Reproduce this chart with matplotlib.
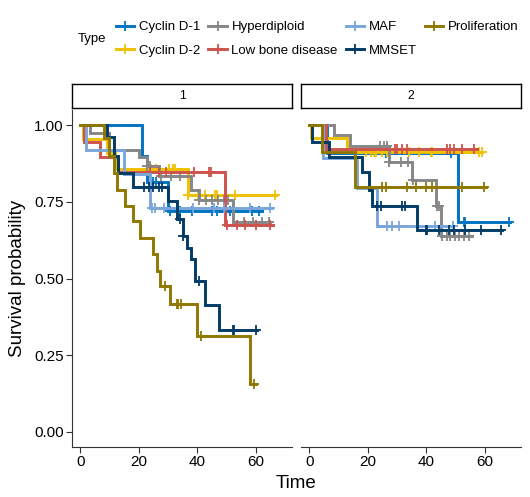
import matplotlib.pyplot as plt
import numpy as np

plt.rcParams['font.family'] = ['Liberation Sans', 'DejaVu Sans']

# 分组和颜色 (jco 调色板)
types = ["Cyclin D-1", "Cyclin D-2", "Hyperdiploid", "Low bone disease", "MAF", "MMSET", "Proliferation"]
colors = ["#0073C2", "#EFC000", "#868686", "#CD534C", "#7AA6DC", "#003C67", "#8F7700"]
panels = ["1", "2"]

# 面板 1：阶梯时间点、生存率、最后随访时间、删失时间
times_1 = {
    "Cyclin D-1": [0, 21, 23, 30],
    "Cyclin D-2": [0, 1, 9, 12, 37],
    "Hyperdiploid": [0, 3.4, 10, 20, 23, 27, 38, 40.5, 52.4],
    "Low bone disease": [0, 1.2, 6.8, 13, 49.6],
    "MAF": [0, 2, 15, 24],
    "MMSET": [0, 9, 11.5, 13, 18, 30, 33, 35, 36.5, 38, 39.3, 42.7, 47.3],
    "Proliferation": [0, 8, 9.8, 11.4, 12.5, 15.4, 18.2, 20.5, 25, 26.4, 27.4, 30.8, 39.9, 58],
}
surv_1 = {
    "Cyclin D-1": [1.0, 0.90, 0.816, 0.72],
    "Cyclin D-2": [1.0, 0.955, 0.91, 0.857, 0.774],
    "Hyperdiploid": [1.0, 0.975, 0.92, 0.897, 0.867, 0.833, 0.79, 0.755, 0.683],
    "Low bone disease": [1.0, 0.946, 0.897, 0.846, 0.676],
    "MAF": [1.0, 0.92, 0.84, 0.731],
    "MMSET": [1.0, 0.962, 0.90, 0.845, 0.80, 0.752, 0.693, 0.638, 0.60, 0.563, 0.493, 0.412, 0.331],
    "Proliferation": [1.0, 0.957, 0.90, 0.845, 0.79, 0.736, 0.687, 0.633, 0.58, 0.525, 0.477, 0.417, 0.313, 0.155],
}
end_1 = {"Cyclin D-1": 62, "Cyclin D-2": 67, "Hyperdiploid": 65, "Low bone disease": 66,
         "MAF": 65.5, "MMSET": 60.4, "Proliferation": 60}
cens_1 = {
    "Cyclin D-1": [25, 26, 30.8, 34.2, 38.2, 45, 46.7, 51.3, 58.7, 61],
    "Cyclin D-2": [24.3, 26, 30.5, 31.7, 32.3, 37, 40.4, 42.7, 46, 46.7, 53, 66.7],
    "Hyperdiploid": [23, 24, 27.5, 31, 34, 40.7, 43, 45, 47, 49, 50.5, 56, 59, 62, 64.5],
    "Low bone disease": [24, 27, 29.5, 39, 44, 44.7, 50.3, 53.6, 56.5, 60, 64.8],
    "MAF": [24.5, 25.6, 28.5, 33, 38.7, 45.6, 49, 58, 65],
    "MMSET": [21.7, 23.4, 25, 26.8, 27.9, 34, 35, 40.7, 52.2, 52.6, 60],
    "Proliferation": [29, 33.1, 33.6, 34.4, 41.3, 59.3],
}

# 面板 2
times_2 = {
    "Cyclin D-1": [0, 6.2, 50.8],
    "Cyclin D-2": [0, 0.5, 13],
    "Hyperdiploid": [0, 8.4, 14, 27.2, 35.2, 43.2, 44.9],
    "Low bone disease": [0, 5.6],
    "MAF": [0, 4.6, 16.4, 23.2],
    "MMSET": [0, 1, 6.7, 18.1, 20.4, 21.5, 36.9],
    "Proliferation": [0, 4.4, 15.8],
}
surv_2 = {
    "Cyclin D-1": [1.0, 0.91, 0.684],
    "Cyclin D-2": [1.0, 0.957, 0.913],
    "Hyperdiploid": [1.0, 0.968, 0.932, 0.881, 0.822, 0.736, 0.638],
    "Low bone disease": [1.0, 0.922],
    "MAF": [1.0, 0.892, 0.795, 0.671],
    "MMSET": [1.0, 0.946, 0.897, 0.849, 0.79, 0.738, 0.658],
    "Proliferation": [1.0, 0.913, 0.80],
}
end_2 = {"Cyclin D-1": 68.8, "Cyclin D-2": 59, "Hyperdiploid": 55.7, "Low bone disease": 57.4,
         "MAF": 49, "MMSET": 66, "Proliferation": 60.3}
cens_2 = {
    "Cyclin D-1": [26.3, 48.5, 52.9, 53.4, 68.3],
    "Cyclin D-2": [19.3, 21, 22.1, 22.7, 25, 26.7, 34.1, 37.5, 41.5, 42, 58, 59.1],
    "Hyperdiploid": [24.3, 25.5, 26.7, 27.2, 31.4, 33.7, 35.4, 43.8, 44.4, 45.5, 47.2, 48.3, 50, 51.2, 52.9, 54.6],
    "Low bone disease": [29.5, 30, 31.8, 33.5, 47.2, 48.3, 49.5, 52.3, 56.3],
    "MAF": [26.7, 28.4, 30.7, 43, 49],
    "MMSET": [23.2, 24.4, 31.8, 32.9, 39.8, 40.3, 44.3, 47.8, 49.5, 53.4, 58.6, 65.4],
    "Proliferation": [25, 26.1, 33.5, 36.4, 39.8, 42, 52.3, 59.7],
}

W, H = 530, 497
fig = plt.figure(figsize=(W / 100, H / 100), dpi=100)


def box(x0, y0, x1, y1):
    # 像素坐标 -> figure 坐标
    return [x0 / W, 1 - y1 / H, (x1 - x0) / W, (y1 - y0) / H]


panel_data = [(times_1, surv_1, end_1, cens_1), (times_2, surv_2, end_2, cens_2)]
lefts = [72, 301]

for k, (times, surv, ends, cens) in enumerate(panel_data):
    x0 = lefts[k]
    ax = fig.add_axes(box(x0, 110, x0 + 220, 447))
    for name, col in zip(types, colors):
        t = list(times[name]) + [ends[name]]
        s = list(surv[name]) + [surv[name][-1]]
        ax.step(t, s, where='post', color=col, lw=2.1, solid_joinstyle='miter')
        # 删失点的生存率
        idx = np.searchsorted(times[name], cens[name], side='right') - 1
        cy = np.array(surv[name])[idx]
        ax.plot(cens[name], cy, ls='none', marker='+', color=col, ms=7, mew=1.3)
    ax.set_xlim(-2.8, 72.4)
    ax.set_ylim(-0.05, 1.05)
    ax.set_xticks([0, 20, 40, 60])
    for sp in ['top', 'right']:
        ax.spines[sp].set_visible(False)
    ax.spines['bottom'].set_color('#333333')
    ax.spines['left'].set_color('#333333')
    ax.tick_params(length=4, color='#333333', labelsize=11, labelcolor='black', pad=2)
    if k == 0:
        ax.set_yticks([0, 0.25, 0.5, 0.75, 1.0])
        ax.set_yticklabels(["0.00", "0.25", "0.50", "0.75", "1.00"])
    else:
        ax.spines['left'].set_visible(False)
        ax.set_yticks([])

    # 分面标签条
    sax = fig.add_axes(box(x0, 84, x0 + 220, 108))
    sax.set_xticks([])
    sax.set_yticks([])
    for sp in sax.spines.values():
        sp.set_linewidth(1.0)
        sp.set_color('black')
    sax.text(0.5, 0.5, panels[k], ha='center', va='center', fontsize=8.8)

fig.text(18 / W, 1 - 278 / H, "Survival probability", rotation=90, ha='center', va='center', fontsize=13.5)
fig.text(296 / W, 1 - 483 / H, "Time", ha='center', va='center', fontsize=13.5)

# 图例
handles = [plt.Line2D([], [], color=c, lw=2.1, marker='+', ms=7, mew=1.3) for c in colors]
fig.text(78 / W, 1 - 39 / H, "Type", ha='left', va='center', fontsize=9.5)
fig.legend(handles, types, loc='center left', bbox_to_anchor=(116 / W, 1 - 39 / H), ncol=4,
           frameon=False, fontsize=9.5, handlelength=1.4, handletextpad=0.35,
           columnspacing=0.6, labelspacing=0.85, borderpad=0, borderaxespad=0)

plt.savefig('out.png', dpi=100)
